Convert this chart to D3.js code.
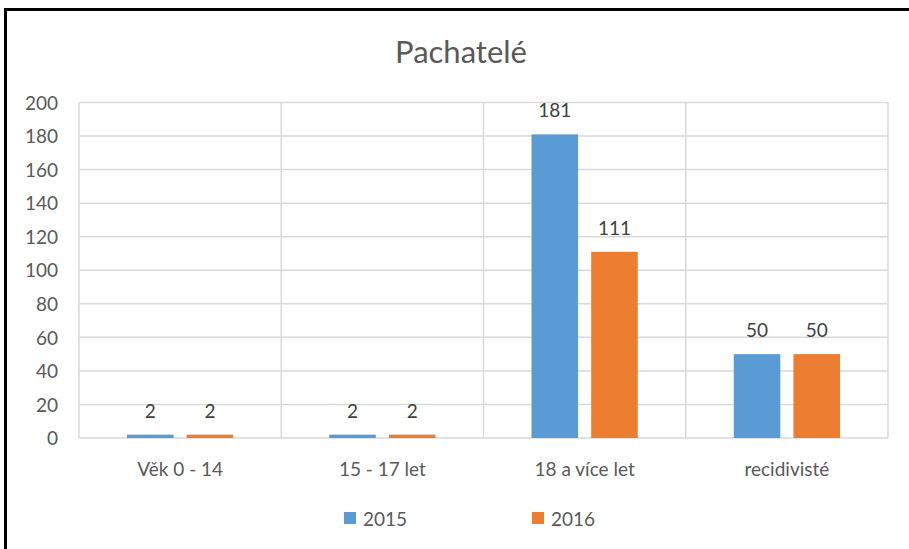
<!DOCTYPE html>
<html>
<head>
<meta charset="utf-8">
<script src="https://cdn.jsdelivr.net/npm/d3@7"></script>
<style>
  body { margin: 0; background: #fff; }
  text { font-family: Lato, "Noto Sans", sans-serif; fill: #595959; }
</style>
</head>
<body>
<div class="chart"></div>
<script>
var categories = ["Věk 0 - 14", "15 - 17 let", "18 a více let", "recidivisté"];
var seriesNames = ["2015", "2016"];
var values2015 = [2, 2, 181, 50];
var values2016 = [2, 2, 111, 50];
var yTicks = [0, 20, 40, 60, 80, 100, 120, 140, 160, 180, 200];
var colors = ["#5b9bd5", "#ed7d31"];

var margin = {top: 102.5, right: 21, bottom: 111, left: 79},
    width = 909 - margin.left - margin.right,
    height = 549 - margin.top - margin.bottom;

var svg = d3.select(".chart").append("svg")
    .attr("width", 909)
    .attr("height", 549);

// outer frame (left and top edges visible)
svg.append("line").attr("x1", 5.5).attr("y1", 8).attr("x2", 5.5).attr("y2", 549)
    .attr("stroke", "#000").attr("stroke-width", 3);
svg.append("line").attr("x1", 4).attr("y1", 9.5).attr("x2", 909).attr("y2", 9.5)
    .attr("stroke", "#000").attr("stroke-width", 3);

svg.append("text")
    .attr("x", 461).attr("y", 63)
    .attr("text-anchor", "middle")
    .style("font-size", "31px")
    .text("Pachatelé");

var g = svg.append("g")
    .attr("transform", "translate(" + margin.left + "," + margin.top + ")");

var x = d3.scaleBand().domain(categories).range([0, width]);
var x1 = d3.scaleBand().domain(seriesNames).range([48, x.bandwidth() - 48]).paddingInner(0.22);
var y = d3.scaleLinear().domain([0, 200]).range([height, 0]);

// horizontal grid
g.selectAll(".hgrid")
    .data(yTicks)
    .enter().append("line")
    .attr("class", "hgrid")
    .attr("x1", 0).attr("x2", width)
    .attr("y1", function(d){ return y(d); })
    .attr("y2", function(d){ return y(d); })
    .attr("stroke", "#d9d9d9").attr("stroke-width", 1.5);

// vertical grid (category boundaries)
g.selectAll(".vgrid")
    .data(categories.concat(["end"]))
    .enter().append("line")
    .attr("class", "vgrid")
    .attr("x1", function(d, i){ return i * x.bandwidth(); })
    .attr("x2", function(d, i){ return i * x.bandwidth(); })
    .attr("y1", 0).attr("y2", height)
    .attr("stroke", "#d9d9d9").attr("stroke-width", 1.5);

var yAxis = d3.axisLeft(y).tickValues(yTicks).tickSize(0).tickPadding(21);
g.append("g").call(yAxis)
    .call(function(a){ a.select(".domain").remove(); })
    .selectAll("text").style("font-size", "19px").attr("dy", "0.35em");

var data = categories.map(function(c, i) {
  return {cat: c, vals: [values2015[i], values2016[i]]};
});

var groups = g.selectAll(".group")
    .data(data)
    .enter().append("g")
    .attr("transform", function(d){ return "translate(" + x(d.cat) + ",0)"; });

groups.selectAll("rect")
    .data(function(d){ return d.vals.map(function(v, j){ return {s: seriesNames[j], v: v, j: j}; }); })
    .enter().append("rect")
    .attr("x", function(d){ return x1(d.s); })
    .attr("width", x1.bandwidth())
    .attr("y", function(d){ return y(d.v); })
    .attr("height", function(d){ return height - y(d.v); })
    .attr("fill", function(d){ return colors[d.j]; });

groups.selectAll(".lbl")
    .data(function(d){ return d.vals.map(function(v, j){ return {s: seriesNames[j], v: v}; }); })
    .enter().append("text")
    .attr("class", "lbl")
    .attr("x", function(d){ return x1(d.s) + x1.bandwidth() / 2; })
    .attr("y", function(d){ return y(d.v) - 17; })
    .attr("text-anchor", "middle")
    .style("font-size", "19px")
    .style("fill", "#404040")
    .text(function(d){ return d.v; });

var xAxis = d3.axisBottom(x).tickSize(0).tickPadding(25);
g.append("g")
    .attr("transform", "translate(0," + height + ")")
    .call(xAxis)
    .call(function(a){ a.select(".domain").remove(); })
    .selectAll("text").style("font-size", "19px");

// legend
var legendX = [344, 532];
var legend = svg.selectAll(".legend")
    .data(seriesNames)
    .enter().append("g")
    .attr("transform", function(d, i){ return "translate(" + legendX[i] + ",512)"; });
legend.append("rect").attr("width", 12).attr("height", 12)
    .attr("fill", function(d, i){ return colors[i]; });
legend.append("text").attr("x", 19).attr("y", 14)
    .style("font-size", "19px")
    .text(function(d){ return d; });
</script>
</body>
</html>
